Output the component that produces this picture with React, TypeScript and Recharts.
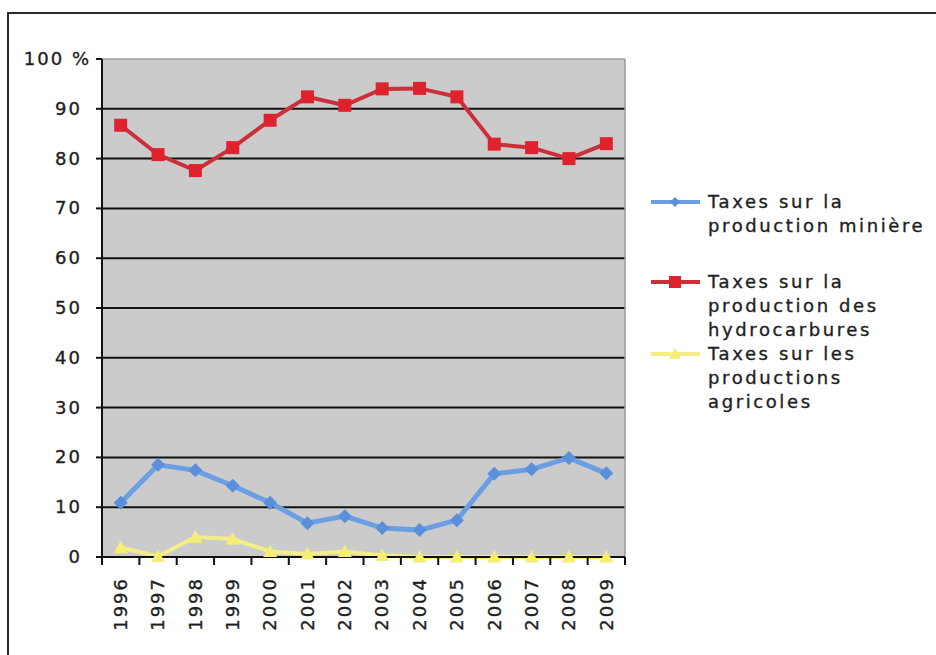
import React from 'react';
import { LineChart, Line, XAxis, YAxis, CartesianGrid } from 'recharts';

// ---- data ----
const years = [1996, 1997, 1998, 1999, 2000, 2001, 2002, 2003, 2004, 2005, 2006, 2007, 2008, 2009];
const miniere = [10.9, 18.5, 17.4, 14.3, 10.9, 6.8, 8.2, 5.8, 5.4, 7.4, 16.7, 17.6, 19.9, 16.8];
const hydrocarbures = [86.7, 80.8, 77.6, 82.2, 87.7, 92.4, 90.7, 94.0, 94.1, 92.4, 82.9, 82.2, 80.0, 83.0];
const agricoles = [1.9, 0.1, 4.0, 3.6, 1.1, 0.6, 1.1, 0.3, 0, 0, 0, 0, 0, 0];
const yTicks = [0, 10, 20, 30, 40, 50, 60, 70, 80, 90, 100];
const gridValues = [10, 20, 30, 40, 50, 60, 70, 80, 90];
const seriesNames = [
  'Taxes sur la production minière',
  'Taxes sur la production des hydrocarbures',
  'Taxes sur les productions agricoles',
];
const legendLines = [
  ['Taxes sur la', 'production minière'],
  ['Taxes sur la', 'production des', 'hydrocarbures'],
  ['Taxes sur les', 'productions', 'agricoles'],
];

const data = years.map((y, i) => ({
  year: y,
  miniere: miniere[i],
  hydrocarbures: hydrocarbures[i],
  agricoles: agricoles[i],
}));

// ---- layout / style ----
const W = 936;
const H = 655;
const MARGIN = { top: 59, right: 311, left: 0, bottom: 0 };
const Y_W = 102;
const X_H = 98;
const PLOT_W = W - MARGIN.left - MARGIN.right - Y_W;
const BAND = PLOT_W / years.length;
const FONT = '"DejaVu Sans", Verdana, sans-serif';
const TEXT = '#1e1e1e';

const BLUE = '#6c9ee3';
const BLUE_M = '#5a8fdb';
const RED = '#cc2f3a';
const RED_M = '#e0222e';
const YEL = '#f3ed8a';
const YEL_M = '#f5ee70';

const textStyle = { letterSpacing: 2, stroke: TEXT, strokeWidth: 0.35 } as const;

const YTick = (props: any) => {
  const { x, y, payload } = props;
  const v = payload.value;
  return (
    <text
      x={v === 100 ? x + 9 : x}
      y={y}
      dy="0.33em"
      textAnchor="end"
      fontSize={18}
      fontFamily={FONT}
      fill={TEXT}
      style={textStyle}
    >
      {v === 100 ? '100 %' : String(v)}
    </text>
  );
};

const XTick = (props: any) => {
  const { x, y, payload } = props;
  const last = payload.value === years[years.length - 1];
  return (
    <g>
      <line x1={x - BAND / 2} x2={x - BAND / 2} y1={y} y2={y + 8} stroke="#111" strokeWidth={2} />
      {last && <line x1={x + BAND / 2} x2={x + BAND / 2} y1={y} y2={y + 8} stroke="#111" strokeWidth={2} />}
      <text
        transform={`translate(${x},${y + 20}) rotate(-90)`}
        dy="0.35em"
        textAnchor="end"
        fontSize={18}
        fontFamily={FONT}
        fill={TEXT}
        style={textStyle}
      >
        {String(payload.value)}
      </text>
    </g>
  );
};

const Diamond = ({ cx, cy, fill, s }: any) => (
  <polygon points={`${cx},${cy - s} ${cx + s},${cy} ${cx},${cy + s} ${cx - s},${cy}`} fill={fill} />
);
const Square = ({ cx, cy, fill, s }: any) => (
  <rect x={cx - s} y={cy - s} width={2 * s} height={2 * s} fill={fill} />
);
const Triangle = ({ cx, cy, fill, s }: any) => (
  <polygon points={`${cx},${cy - s} ${cx + s},${cy + s * 0.8} ${cx - s},${cy + s * 0.8}`} fill={fill} />
);

const blueDot = (p: any) => <Diamond key={`d-${p.index}`} cx={p.cx} cy={p.cy} fill={BLUE_M} s={7} />;
const redDot = (p: any) => <Square key={`s-${p.index}`} cx={p.cx} cy={p.cy} fill={RED_M} s={6.5} />;
const yelDot = (p: any) => <Triangle key={`t-${p.index}`} cx={p.cx} cy={p.cy} fill={YEL_M} s={7} />;

const legendDefs = [
  { color: BLUE, mColor: BLUE_M, Marker: Diamond, s: 5, top: 190 },
  { color: RED, mColor: RED_M, Marker: Square, s: 6, top: 270 },
  { color: YEL, mColor: YEL_M, Marker: Triangle, s: 6, top: 342 },
];

const Legend = () => (
  <div style={{ position: 'absolute', left: 0, top: 0, width: W, height: H, pointerEvents: 'none' }}>
    {legendDefs.map((d, i) => (
      <div key={seriesNames[i]} title={seriesNames[i]}>
        <svg
          width={60}
          height={20}
          style={{ position: 'absolute', left: 648, top: d.top + 2 }}
        >
          <line x1={3} x2={52} y1={10} y2={10} stroke={d.color} strokeWidth={4} />
          <d.Marker cx={27} cy={10} fill={d.mColor} s={d.s} />
        </svg>
        <div
          style={{
            position: 'absolute',
            left: 708,
            top: d.top,
            fontFamily: FONT,
            fontSize: 18,
            lineHeight: '24px',
            letterSpacing: 2.6,
            color: TEXT,
            whiteSpace: 'nowrap',
            WebkitTextStroke: '0.35px #1e1e1e',
          }}
        >
          {legendLines[i].map((l) => (
            <div key={l}>{l}</div>
          ))}
        </div>
      </div>
    ))}
  </div>
);

export default function App() {
  return (
    <div
      style={{
        position: 'fixed',
        left: 0,
        top: 0,
        width: W,
        height: H,
        overflow: 'hidden',
        background: '#fff',
        fontFamily: FONT,
      }}
    >
      <div
        style={{
          position: 'absolute',
          left: 7,
          top: 12,
          width: W + 20,
          height: H + 20,
          borderLeft: '2px solid #2a2a2a',
          borderTop: '2px solid #2a2a2a',
        }}
      />
      <div style={{ position: 'absolute', left: 0, top: 0 }}>
        <LineChart width={W} height={H} data={data} margin={MARGIN}>
          <CartesianGrid
            horizontal
            vertical={false}
            horizontalValues={gridValues}
            stroke="#111"
            strokeWidth={2}
            fill="#cbcbcb"
            fillOpacity={1}
          />
          <CartesianGrid
            horizontal
            vertical
            horizontalValues={[100]}
            verticalValues={[years[years.length - 1] + 0.5]}
            stroke="#9a9a9a"
            strokeWidth={1.5}
          />
          <XAxis
            type="number"
            dataKey="year"
            domain={[years[0] - 0.5, years[years.length - 1] + 0.5]}
            ticks={years}
            interval={0}
            height={X_H}
            tickSize={0}
            tickMargin={0}
            tickLine={false}
            axisLine={{ stroke: '#111', strokeWidth: 2 }}
            tick={<XTick />}
            allowDataOverflow
          />
          <YAxis
            type="number"
            domain={[0, 100]}
            ticks={yTicks}
            interval={0}
            width={Y_W}
            tickSize={6}
            tickMargin={14}
            axisLine={{ stroke: '#111', strokeWidth: 2 }}
            tickLine={{ stroke: '#111', strokeWidth: 2 }}
            tick={<YTick />}
          />
          <Line
            name={seriesNames[0]}
            dataKey="miniere"
            stroke={BLUE}
            strokeWidth={5}
            dot={blueDot}
            activeDot={false}
            isAnimationActive={false}
          />
          <Line
            name={seriesNames[1]}
            dataKey="hydrocarbures"
            stroke={RED}
            strokeWidth={4}
            dot={redDot}
            activeDot={false}
            isAnimationActive={false}
          />
          <Line
            name={seriesNames[2]}
            dataKey="agricoles"
            stroke={YEL}
            strokeWidth={4}
            dot={yelDot}
            activeDot={false}
            isAnimationActive={false}
          />
        </LineChart>
      </div>
      <Legend />
    </div>
  );
}
